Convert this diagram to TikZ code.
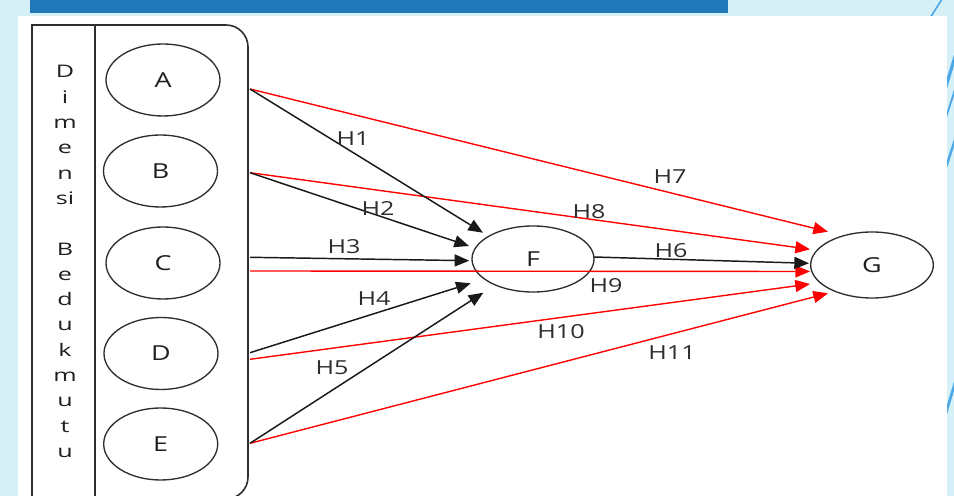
\documentclass[tikz,border=0pt]{standalone}
\usepackage{fontspec}
\setmainfont{Open Sans}
\newfontfamily\diagfont[FakeStretch=1.3]{Open Sans}
\newfontfamily\widefont[FakeStretch=1.45]{Open Sans}
\usetikzlibrary{shapes.geometric,arrows.meta}

\definecolor{pagebg}{HTML}{D6F0F8}
\definecolor{barblue}{HTML}{2178B8}
\definecolor{streak}{HTML}{4DA8E8}
\definecolor{inkgray}{HTML}{2E2E2E}

\tikzset{
  var/.style={ellipse, draw=inkgray, line width=1pt, inner sep=0pt,
    minimum width=85.5pt, minimum height=54pt,
    font=\diagfont\fontsize{15.5}{18}\selectfont, text=black!88},
  hyp/.style={font=\diagfont\fontsize{14.5}{17}\selectfont, text=black!82, inner sep=0pt},
  dimletter/.style={font=\widefont\fontsize{13}{15}\selectfont, text=black!88,
    anchor=base, inner sep=0pt},
  blackarrow/.style={draw=black!90, line width=1.1pt, -{Triangle[length=11pt,width=9pt]}},
  redarrow/.style={draw=red, line width=1.05pt, -{Triangle[length=11pt,width=9pt]}},
  panel/.style={draw=inkgray, line width=1.2pt}
}

\begin{document}
\begin{tikzpicture}[x=0.75pt, y=0.75pt]
\useasboundingbox (0,0) rectangle (954,496);
\clip (0,0) rectangle (954,496);

% slide background, title bar and streaks
\fill[pagebg] (0,0) rectangle (954,496);
\fill[barblue] (30,483.3) rectangle (728,496);
\draw[streak, line width=1.2pt] (944,500) -- (925,470);
\draw[streak, line width=2.4pt] (955.5,441) -- (940,390);
\draw[streak, line width=1.4pt] (955.5,408) -- (940,360);
\draw[streak, line width=1.8pt] (955.5,358) -- (940,310);
\draw[streak, line width=2pt] (955.5,115) -- (940,63);
\fill[white] (18,0) rectangle (947,480.3);

% left panel
\draw[panel] (32,-3) -- (32,471) -- (226,471)
  arc[start angle=90, end angle=0, radius=22] -- (248,19)
  arc[start angle=0, end angle=-90, radius=22] -- cycle;
\draw[panel] (95,471) -- (95,-3);

\foreach \k/\letter in {0/D,1/i,2/m,3/e,4/n,5/si,7/B,8/e,9/d,10/u,11/k,12/m,13/u,14/t,15/u}
  \node[dimletter] (dim\k) at (65,{418-25.3*\k}) {\letter};

% variables
\node[var] (A) at (163,416) {A};
\node[var] (B) at (160.5,325) {B};
\node[var] (C) at (163,233) {C};
\node[var] (D) at (161,142.5) {D};
\node[var] (E) at (160.7,52) {E};
\node[var, minimum width=91.5pt, minimum height=49.5pt] (F) at (533,237) {F};
\node[var, minimum width=92pt, minimum height=49.5pt] (G) at (872,231) {G};

% connector ends on the panel edge
\coordinate (pA) at (250,407);
\coordinate (pB) at (250,323.3);
\coordinate (pC1) at (250,238.7);
\coordinate (pC2) at (250,225);
\coordinate (pD1) at (250,143.3);
\coordinate (pD2) at (250,136.7);
\coordinate (pE) at (250,52.7);
\coordinate (pF) at (594,239);

% arrow tips near F and G
\coordinate (fA) at (483,263.3);
\coordinate (fB) at (469,250);
\coordinate (fC) at (469.3,235.3);
\coordinate (fD) at (470.7,212.7);
\coordinate (fE) at (483.3,203.3);
\coordinate (gA) at (828,264.3);
\coordinate (gB) at (810,246.7);
\coordinate (gF) at (809,232.7);
\coordinate (gC) at (810,224.5);
\coordinate (gD) at (810,212);
\coordinate (gE) at (828,202.7);

% paths to G
\draw[redarrow] (pA) -- (gA);
\draw[redarrow] (pB) -- (gB);
\draw[redarrow] (pC2) -- (gC);
\draw[redarrow] (pD2) -- (gD);
\draw[redarrow] (pE) -- (gE);

% paths to F and from F
\draw[blackarrow] (pA) -- (fA);
\draw[blackarrow] (pB) -- (fB);
\draw[blackarrow] (pC1) -- (fC);
\draw[blackarrow] (pD1) -- (fD);
\draw[blackarrow] (pE) -- (fE);
\draw[blackarrow] (pF) -- (gF);

% hypothesis labels
\node[hyp] (h1) at (353,357) {H1};
\node[hyp] (h2) at (378,287) {H2};
\node[hyp] (h3) at (344,249) {H3};
\node[hyp] (h4) at (374,197) {H4};
\node[hyp] (h5) at (332,128) {H5};
\node[hyp] (h6) at (671,245.3) {H6};
\node[hyp] (h7) at (670,319.3) {H7};
\node[hyp] (h8) at (589,284.3) {H8};
\node[hyp] (h9) at (606,210) {H9};
\node[hyp] (h10) at (561,164.3) {H10};
\node[hyp] (h11) at (672,143.7) {H11};
\end{tikzpicture}
\end{document}
